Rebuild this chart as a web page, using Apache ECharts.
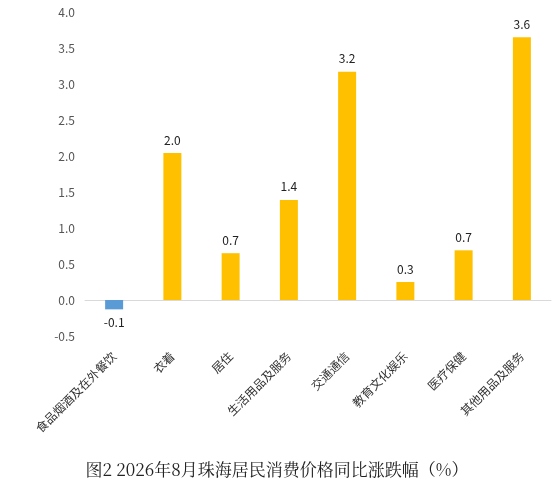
<!DOCTYPE html>
<html><head><meta charset="utf-8">
<script src="https://cdn.jsdelivr.net/npm/echarts@6/dist/echarts.min.js"></script>
<style>html,body{margin:0;background:#fff}#c{width:554px;height:485px}</style>
</head><body><div id="c"></div>
<script>
const categories = ['食品烟酒及在外餐饮','衣着','居住','生活用品及服务','交通通信','教育文化娱乐','医疗保健','其他用品及服务'];
const values = [-0.13, 2.04, 0.65, 1.39, 3.17, 0.25, 0.69, 3.65];
const labels = ['-0.1','2.0','0.7','1.4','3.2','0.3','0.7','3.6'];
const font = 'Noto Sans CJK SC';
const chart = echarts.init(document.getElementById('c'));
chart.setOption({
  animation:false,
  textStyle:{fontFamily:font},
  title:{text:'图2 2026年8月珠海居民消费价格同比涨跌幅（%）',left:'center',top:456,
    textStyle:{fontSize:17,fontWeight:'normal',color:'#222',fontFamily:'Noto Serif CJK SC, '+font}},
  grid:{left:85,right:3,top:12,bottom:149},
  xAxis:{type:'category',data:categories,
    axisLine:{onZero:true,lineStyle:{color:'#d9d9d9'}},axisTick:{show:false},
    axisLabel:{rotate:45,interval:0,margin:18,color:'#333',fontSize:12}},
  yAxis:{type:'value',min:-0.5,max:4,interval:0.5,splitLine:{show:false},
    axisLine:{show:false},axisTick:{show:false},
    axisLabel:{color:'#555',fontSize:12,margin:10,formatter:v=>v.toFixed(1)}},
  series:[{type:'bar',barWidth:18,
    data:values.map((v,i)=>({value:v,itemStyle:{color:v<0?'#5B9BD5':'#FFC000'},
      label:{show:true,position:v<0?'bottom':'top',distance:7,formatter:labels[i],color:'#222',fontSize:12}}))}]
});
</script></body></html>
